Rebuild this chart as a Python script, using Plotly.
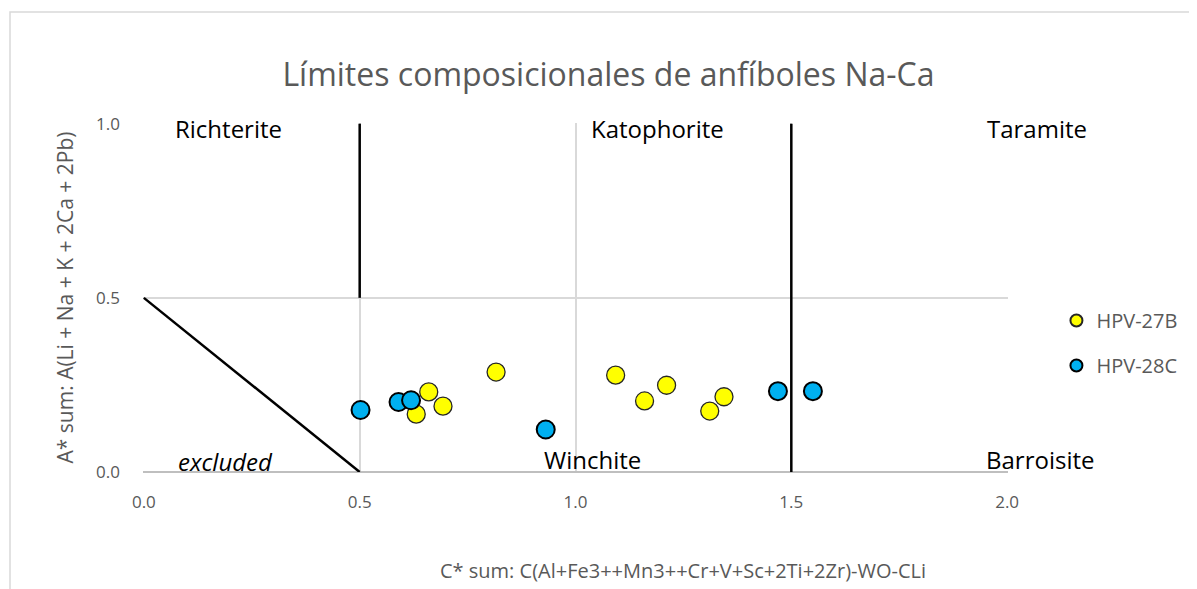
import plotly.graph_objects as go

# Data
s1_name = "HPV-27B"
s1_x = [0.631, 0.660, 0.693, 0.816, 1.093, 1.160, 1.211, 1.311, 1.344]
s1_y = [0.166, 0.230, 0.189, 0.287, 0.278, 0.204, 0.249, 0.175, 0.216]
s2_name = "HPV-28C"
s2_x = [0.502, 0.590, 0.619, 0.931, 1.469, 1.550]
s2_y = [0.178, 0.201, 0.206, 0.122, 0.232, 0.232]

# Field boundaries
boundaries = [
    ([0.0, 0.5], [0.5, 0.0]),
    ([0.5, 0.5], [0.5, 1.0]),
    ([1.5, 1.5], [0.0, 1.0]),
]
field_labels = ["Richterite", "Katophorite", "Taramite", "excluded", "Winchite", "Barroisite"]
field_x = [0.196, 1.19, 2.07, 0.19, 1.04, 2.075]
field_y = [0.985, 0.985, 0.985, 0.03, 0.035, 0.035]

xticks = [0.0, 0.5, 1.0, 1.5, 2.0]
yticks = [0.0, 0.5, 1.0]
x_range = [-0.002, 2.002]
y_range = [0, 1.002]

font_family = "Open Sans, Noto Sans, sans-serif"
gray = "#595959"

fig = go.Figure()
for bx, by in boundaries:
    fig.add_trace(go.Scatter(x=bx, y=by, mode="lines", line=dict(color="black", width=2.5),
                             showlegend=False, hoverinfo="skip", cliponaxis=False))

fig.add_trace(go.Scatter(x=s1_x, y=s1_y, mode="markers", name=s1_name, legendgroup="a",
                         marker=dict(size=18, color="#FFFF00", line=dict(color="#262626", width=1.3))))
fig.add_trace(go.Scatter(x=s2_x, y=s2_y, mode="markers", name=s2_name, legendgroup="b",
                         marker=dict(size=18, color="#00B0F0", line=dict(color="#000000", width=2))))

for t, x, y in zip(field_labels, field_x, field_y):
    txt = f"<i>{t}</i>" if t == "excluded" else t
    px = (x - x_range[0]) / (x_range[1] - x_range[0])
    py = (y - y_range[0]) / (y_range[1] - y_range[0])
    fig.add_annotation(x=px, y=py, text=txt, showarrow=False, xref="paper", yref="paper",
                       xanchor="center", yanchor="middle",
                       font=dict(size=24, color="#000000", family=font_family))

# x-axis title (centred on the chart area, as in the original)
fig.add_annotation(x=540/865, y=-98/349, xref="paper", yref="paper", xanchor="center", yanchor="middle",
                   text="C* sum: C(Al+Fe3++Mn3++Cr+V+Sc+2Ti+2Zr)-WO-CLi", showarrow=False,
                   font=dict(size=20, color=gray, family=font_family))

fig.update_layout(
    width=1189, height=581,
    margin=dict(l=135, r=189, t=115, b=117),
    paper_bgcolor="white", plot_bgcolor="white",
    title=dict(text="Límites composicionales de anfíboles Na-Ca", x=0.505,
               xanchor="center", y=0.885, yanchor="middle",
               font=dict(size=32, color=gray, family=font_family)),
    showlegend=True,
    legend=dict(x=1.056, y=0.49, xanchor="left", yanchor="top",
                font=dict(size=20, color=gray, family=font_family),
                tracegroupgap=16, itemsizing="constant", bgcolor="rgba(0,0,0,0)"),
    font=dict(family=font_family, color=gray),
)
fig.update_xaxes(range=x_range, tickvals=xticks, ticktext=[f"{v:.1f}" for v in xticks],
                 showgrid=True, gridcolor="#d9d9d9", gridwidth=1.5,
                 zeroline=False, showline=False,
                 ticks="", ticklabelstandoff=18,
                 tickfont=dict(size=17, color=gray))
fig.update_yaxes(range=y_range, tickvals=yticks, ticktext=[f"{v:.1f}" for v in yticks],
                 showgrid=True, gridcolor="#d9d9d9", gridwidth=1.5,
                 zeroline=True, zerolinecolor="#bfbfbf", zerolinewidth=1.5,
                 showline=False, ticks="", ticklabelstandoff=22,
                 tickfont=dict(size=17, color=gray),
                 title=dict(text="A* sum: A(Li + Na + K + 2Ca + 2Pb)",
                            font=dict(size=21, color=gray), standoff=16))

# chart border
fig.add_shape(type="rect", xref="paper", yref="paper",
              x0=-133/865, x1=1200/865, y0=-130/349, y1=(472-12)/349,
              line=dict(color="#d9d9d9", width=1.5), layer="below")

fig.write_html("out.html")
